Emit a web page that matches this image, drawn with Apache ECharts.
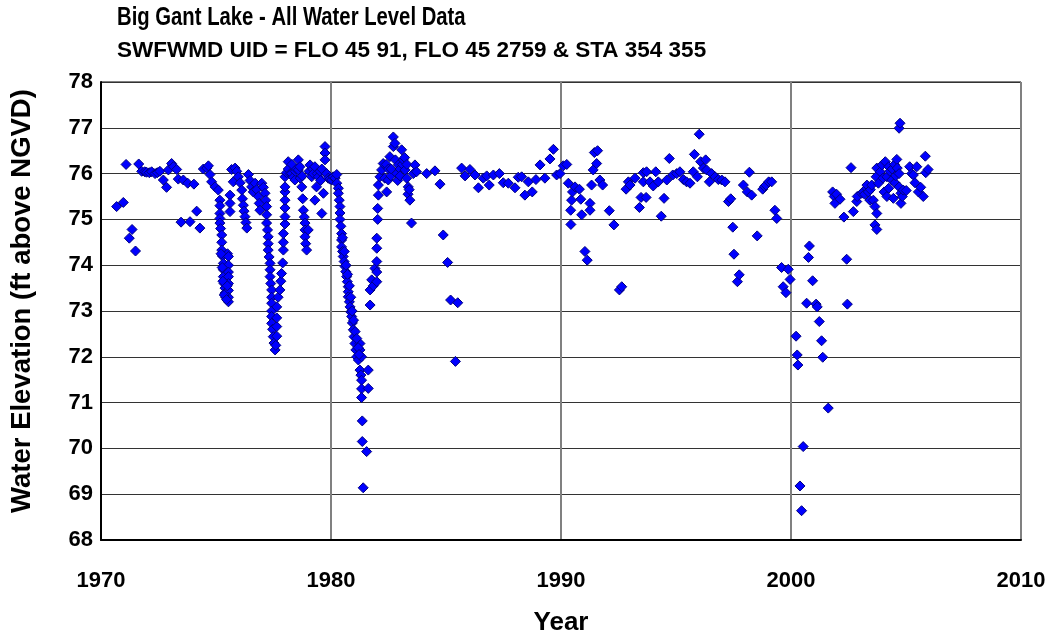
<!DOCTYPE html>
<html><head><meta charset="utf-8">
<script src="https://cdn.jsdelivr.net/npm/echarts@6/dist/echarts.min.js"></script>
<style>html,body{margin:0;padding:0;background:#fff}#c{width:1054px;height:637px}</style>
</head><body><div id="c"></div>
<script>
const titleText = 'Big Gant Lake - All Water Level Data';
const subtitleText = 'SWFWMD UID = FLO 45 91, FLO 45 2759 & STA 354 355';
const xAxisName = 'Year';
const yAxisName = 'Water Elevation (ft above NGVD)';
const xTicks = [1970, 1980, 1990, 2000, 2010];
const yTicks = [68, 69, 70, 71, 72, 73, 74, 75, 76, 77, 78];

const obs1970_1974 = [[1970.68,75.28],[1970.97,75.37],[1971.09,76.2],[1971.23,74.59],[1971.35,74.78],[1971.5,74.31],[1971.64,76.21],[1971.77,76.05],[1971.9,76.04],[1971.98,76.03],[1972.1,76.02],[1972.2,76.04],[1972.35,76.0],[1972.45,76.02],[1972.56,76.05],[1972.71,75.86],[1972.85,75.7],[1972.93,76.08],[1973.07,76.22],[1973.15,76.15],[1973.29,76.09],[1973.36,75.88],[1973.48,74.94],[1973.58,75.86],[1973.77,75.79],[1973.87,74.95],[1974.04,75.77],[1974.16,75.18],[1974.3,74.81],[1974.45,76.1],[1974.6,76.12],[1974.67,76.17],[1974.74,75.98],[1974.81,75.82],[1974.96,75.71]];

const obs1975_1979 = [[1975.1,75.64],[1975.17,75.42],[1975.17,75.3],[1975.17,75.13],[1975.17,75.02],[1975.17,74.92],[1975.2,74.8],[1975.25,74.66],[1975.25,74.5],[1975.25,74.33],[1975.28,74.2],[1975.32,74.04],[1975.32,73.9],[1975.32,73.75],[1975.35,73.6],[1975.39,73.5],[1975.39,73.39],[1975.42,73.3],[1975.5,74.25],[1975.54,74.19],[1975.54,74.0],[1975.54,73.85],[1975.54,73.75],[1975.54,73.6],[1975.54,73.45],[1975.54,73.3],[1975.54,73.2],[1975.22,74.25],[1975.27,73.95],[1975.3,73.65],[1975.36,73.35],[1975.46,73.25],[1975.49,73.55],[1975.61,75.53],[1975.61,75.35],[1975.61,75.17],[1975.68,76.09],[1975.75,75.82],[1975.83,76.12],[1975.9,76.05],[1975.97,75.93],[1976.05,75.8],[1976.12,75.64],[1976.15,75.45],[1976.19,75.31],[1976.22,75.18],[1976.26,75.06],[1976.3,74.93],[1976.34,74.81],[1976.41,75.98],[1976.48,75.85],[1976.55,75.71],[1976.62,75.6],[1976.7,75.79],[1976.77,75.65],[1976.84,75.5],[1976.88,75.35],[1976.91,75.2],[1976.99,75.79],[1977.06,75.7],[1977.13,75.57],[1977.16,75.42],[1977.2,75.28],[1977.2,75.1],[1977.2,74.92],[1977.24,74.77],[1977.27,74.62],[1977.27,74.47],[1977.27,74.33],[1977.31,74.18],[1977.35,74.04],[1977.35,73.9],[1977.35,73.75],[1977.38,73.6],[1977.42,73.46],[1977.42,73.3],[1977.42,73.17],[1977.42,73.0],[1977.42,72.88],[1977.42,72.73],[1977.46,72.6],[1977.49,72.44],[1977.52,72.3],[1977.57,72.15],[1977.6,72.25],[1977.64,72.45],[1977.64,72.66],[1977.64,72.85],[1977.64,73.09],[1977.7,73.3],[1977.78,73.46],[1977.82,73.65],[1977.85,73.82],[1977.9,74.05],[1977.93,74.33],[1977.93,74.5],[1977.93,74.69],[1978.0,74.9],[1978.0,75.06],[1978.0,75.25],[1978.0,75.42],[1978.0,75.6],[1978.0,75.71],[1978.0,75.93],[1978.07,76.02],[1978.14,76.26],[1978.14,76.1],[1978.22,76.0],[1978.29,76.0],[1978.3,76.2],[1978.36,75.92],[1978.43,75.86],[1978.45,76.05],[1978.5,76.1],[1978.58,76.3],[1978.58,76.08],[1978.65,76.15],[1978.66,75.9],[1978.73,75.71],[1978.75,75.95],[1978.77,75.45],[1978.8,75.2],[1978.84,75.05],[1978.87,74.92],[1978.87,74.77],[1978.87,74.62],[1978.9,74.47],[1978.94,74.33],[1979.01,74.77],[1979.05,76.05],[1979.09,76.19],[1979.16,75.93],[1979.2,76.1],[1979.23,76.0],[1979.3,76.15],[1979.3,75.42],[1979.37,75.71],[1979.4,76.0],[1979.45,75.93],[1979.52,76.05],[1979.55,75.85],[1979.6,76.1],[1979.6,75.13],[1979.67,75.57],[1979.74,76.59],[1979.74,76.45],[1979.74,76.3],[1979.81,76.0],[1979.88,75.9],[1979.95,75.88]];

const obs1980_1984 = [[1980.03,75.86],[1980.1,75.93],[1980.18,75.9],[1980.25,75.98],[1980.25,75.79],[1980.32,75.68],[1980.32,75.57],[1980.36,75.42],[1980.39,75.28],[1980.39,75.14],[1980.39,75.0],[1980.43,74.85],[1980.46,74.69],[1980.46,74.55],[1980.46,74.4],[1980.5,74.3],[1980.53,74.19],[1980.57,74.08],[1980.61,73.97],[1980.64,73.86],[1980.68,73.75],[1980.71,73.64],[1980.75,73.53],[1980.75,73.42],[1980.75,73.31],[1980.8,73.2],[1980.83,73.09],[1980.86,72.98],[1980.9,72.88],[1980.93,72.74],[1980.97,72.59],[1981.0,72.44],[1981.04,72.29],[1981.08,72.15],[1981.12,72.0],[1981.19,71.93],[1981.26,72.29],[1981.26,72.15],[1981.33,72.0],[1981.26,71.71],[1981.3,71.6],[1981.33,71.49],[1981.33,71.3],[1981.33,71.11],[1981.36,70.6],[1981.36,70.15],[1981.55,69.93],[1981.4,69.14],[1981.62,71.71],[1981.62,71.31],[1980.5,74.6],[1980.58,74.3],[1980.65,74.0],[1980.72,73.8],[1980.8,73.55],[1980.86,73.3],[1980.92,73.0],[1980.98,72.8],[1981.05,72.55],[1981.12,72.4],[1981.18,72.2],[1981.22,72.05],[1981.7,73.13],[1981.7,73.46],[1981.77,73.68],[1981.84,73.55],[1981.91,73.93],[1981.99,73.64],[1981.99,73.85],[1981.99,74.08],[1981.99,74.37],[1981.99,74.59],[1982.03,75.0],[1982.03,75.24],[1982.06,75.53],[1982.06,75.75],[1982.13,75.93],[1982.2,76.08],[1982.27,76.22],[1982.34,75.9],[1982.4,76.2],[1982.42,75.6],[1982.49,75.86],[1982.5,76.1],[1982.56,76.37],[1982.6,75.95],[1982.62,76.1],[1982.71,76.59],[1982.71,76.8],[1982.78,76.66],[1982.8,76.3],[1982.86,76.0],[1982.9,75.85],[1982.93,76.19],[1983.0,76.1],[1983.0,75.95],[1983.07,76.52],[1983.1,76.2],[1983.14,76.3],[1983.2,76.35],[1983.22,76.08],[1983.29,75.9],[1983.3,76.2],[1983.35,75.55],[1983.36,75.71],[1983.4,75.65],[1983.43,75.42],[1983.5,74.92],[1983.58,76.0],[1983.65,76.19],[1983.72,76.04],[1984.16,76.0],[1984.52,76.06],[1984.74,75.77],[1984.88,74.66]];

const obs1985_1994 = [[1985.07,74.06],[1985.2,73.24],[1985.41,71.9],[1985.51,73.18],[1985.68,76.12],[1985.83,75.95],[1986.04,76.09],[1986.26,75.97],[1986.41,75.69],[1986.62,75.9],[1986.77,75.95],[1986.88,75.75],[1987.06,75.97],[1987.32,76.0],[1987.49,75.8],[1987.71,75.79],[1988.0,75.69],[1988.14,75.92],[1988.29,75.93],[1988.43,75.53],[1988.58,75.82],[1988.75,75.6],[1988.91,75.87],[1989.09,76.19],[1989.3,75.9],[1989.52,76.32],[1989.67,76.53],[1989.81,75.97],[1989.96,76.0],[1990.1,76.17],[1990.25,76.2],[1990.32,75.79],[1990.42,75.2],[1990.43,74.89],[1990.46,75.42],[1990.5,75.6],[1990.61,75.71],[1990.8,75.66],[1990.86,75.44],[1990.9,75.1],[1991.04,74.3],[1991.14,74.11],[1991.26,75.35],[1991.26,75.2],[1991.33,75.75],[1991.4,76.08],[1991.45,76.46],[1991.55,76.22],[1991.59,76.5],[1991.69,75.86],[1991.81,75.75],[1992.1,75.19],[1992.3,74.88],[1992.54,73.46],[1992.64,73.53],[1992.83,75.66],[1992.93,75.82],[1993.0,75.75],[1993.22,75.9],[1993.41,75.26],[1993.48,75.48],[1993.58,76.02],[1993.58,75.82],[1993.7,75.48],[1993.72,76.04],[1993.87,75.82],[1994.01,75.73],[1994.12,76.04],[1994.23,75.82],[1994.36,75.07],[1994.48,75.46],[1994.6,75.86],[1994.71,76.33],[1994.86,75.97]];

const obs1995_1999 = [[1995.03,76.0],[1995.17,76.04],[1995.32,75.87],[1995.46,75.82],[1995.61,75.79],[1995.75,76.04],[1995.8,76.42],[1995.93,75.93],[1996.01,76.86],[1996.07,76.26],[1996.19,76.12],[1996.29,76.3],[1996.33,76.08],[1996.45,75.82],[1996.55,76.0],[1996.7,75.93],[1996.84,75.87],[1996.99,75.86],[1997.13,75.82],[1997.28,75.39],[1997.38,75.45],[1997.47,74.83],[1997.52,74.24],[1997.67,73.64],[1997.75,73.79],[1997.93,75.75],[1998.1,75.6],[1998.19,76.03],[1998.29,75.53],[1998.53,74.64],[1998.77,75.66],[1998.85,75.72],[1998.91,75.75],[1999.03,75.82],[1999.16,75.82],[1999.3,75.2],[1999.38,75.02],[1999.59,73.95],[1999.66,73.53],[1999.78,73.4],[1999.88,73.91],[1999.96,73.69]];

const obs2000_2006 = [[2000.22,72.45],[2000.27,72.04],[2000.3,71.82],[2000.39,69.18],[2000.46,68.64],[2000.53,70.04],[2000.68,73.17],[2000.76,74.17],[2000.8,74.42],[2000.94,73.66],[2001.09,73.15],[2001.14,73.09],[2001.23,72.77],[2001.33,72.35],[2001.38,71.99],[2001.62,70.88],[2001.81,75.6],[2001.88,75.5],[2001.91,75.35],[2001.98,75.55],[2002.13,75.44],[2002.3,75.05],[2002.42,74.13],[2002.45,73.15],[2002.61,76.13],[2002.71,75.17],[2002.86,75.39],[2002.88,75.5],[2003.07,75.57],[2003.14,75.6],[2003.2,75.55],[2003.29,75.68],[2003.3,75.75],[2003.36,75.6],[2003.43,75.42],[2003.45,75.65],[2003.51,75.75],[2003.58,75.42],[2003.65,75.28],[2003.65,74.88],[2003.73,74.78],[2003.73,75.13],[2003.7,75.93],[2003.73,76.12],[2003.8,75.79],[2003.88,76.04],[2003.96,76.19],[2004.0,75.9],[2004.05,75.6],[2004.1,76.26],[2004.17,75.93],[2004.17,75.5],[2004.25,75.68],[2004.25,76.15],[2004.3,76.05],[2004.38,75.86],[2004.4,76.1],[2004.45,75.46],[2004.5,76.2],[2004.52,75.8],[2004.55,75.95],[2004.6,76.31],[2004.62,76.12],[2004.7,76.0],[2004.7,75.71],[2004.7,76.99],[2004.74,77.1],[2004.78,75.57],[2004.78,75.35],[2004.84,75.5],[2004.88,75.64],[2005.01,75.63],[2005.16,76.15],[2005.25,76.0],[2005.32,75.97],[2005.39,75.8],[2005.47,76.15],[2005.54,75.6],[2005.64,75.7],[2005.75,75.5],[2005.84,76.38],[2005.86,76.02],[2005.96,76.09]];

const allObs = [obs1970_1974, obs1975_1979, obs1980_1984, obs1985_1994, obs1995_1999, obs2000_2006];

const FONT = "'Liberation Sans', Arial, sans-serif";
const chart = echarts.init(document.getElementById('c'), null, {renderer: 'canvas'});
chart.setOption({
  animation: false,
  backgroundColor: '#ffffff',
  graphic: [
    {type: 'text', x: 117, y: 5, scaleX: 0.78, scaleY: 1,
     style: {text: titleText, fontFamily: FONT, fontWeight: 'bold', fontSize: 26, fill: '#000', textAlign: 'left', textVerticalAlign: 'top'}},
    {type: 'text', x: 117, y: 39,
     style: {text: subtitleText, fontFamily: FONT, fontWeight: 'bold', fontSize: 22.5, fill: '#000', textAlign: 'left', textVerticalAlign: 'top'}},
    {type: 'text', x: 22, y: 301, rotation: Math.PI / 2,
     style: {text: yAxisName, fontFamily: FONT, fontWeight: 'bold', fontSize: 27.5, fill: '#000', textAlign: 'center', textVerticalAlign: 'middle'}}
  ],
  grid: {left: 101, right: 33, top: 82, bottom: 97, containLabel: false, outerBoundsMode: 'none', show: true, borderColor: '#000', borderWidth: 1},
  xAxis: {
    type: 'value', min: xTicks[0], max: xTicks[xTicks.length - 1], interval: 10,
    name: xAxisName, nameLocation: 'middle', nameGap: 70,
    nameTextStyle: {fontFamily: FONT, fontWeight: 'bold', fontSize: 26, color: '#000'},
    axisLine: {show: true, onZero: false, lineStyle: {color: '#000', width: 2}},
    axisTick: {show: false},
    axisLabel: {margin: 30, fontFamily: FONT, fontWeight: 'bold', fontSize: 22, color: '#000', formatter: v => String(v)},
    splitLine: {show: true, lineStyle: {color: '#808080', width: 2}}
  },
  yAxis: {
    type: 'value', min: yTicks[0], max: yTicks[yTicks.length - 1], interval: 1,
    axisLine: {show: true, onZero: false, lineStyle: {color: '#000', width: 2}},
    axisTick: {show: false},
    axisLabel: {margin: 8, fontFamily: FONT, fontWeight: 'bold', fontSize: 22, color: '#000'},
    splitLine: {show: true, lineStyle: {color: '#333', width: 1}}
  },
  series: allObs.map(d => ({
    type: 'scatter', data: d, symbol: 'diamond', symbolSize: 10,
    itemStyle: {color: '#0000ff', borderColor: '#000080', borderWidth: 1, opacity: 1}
  }))
});
</script></body></html>
